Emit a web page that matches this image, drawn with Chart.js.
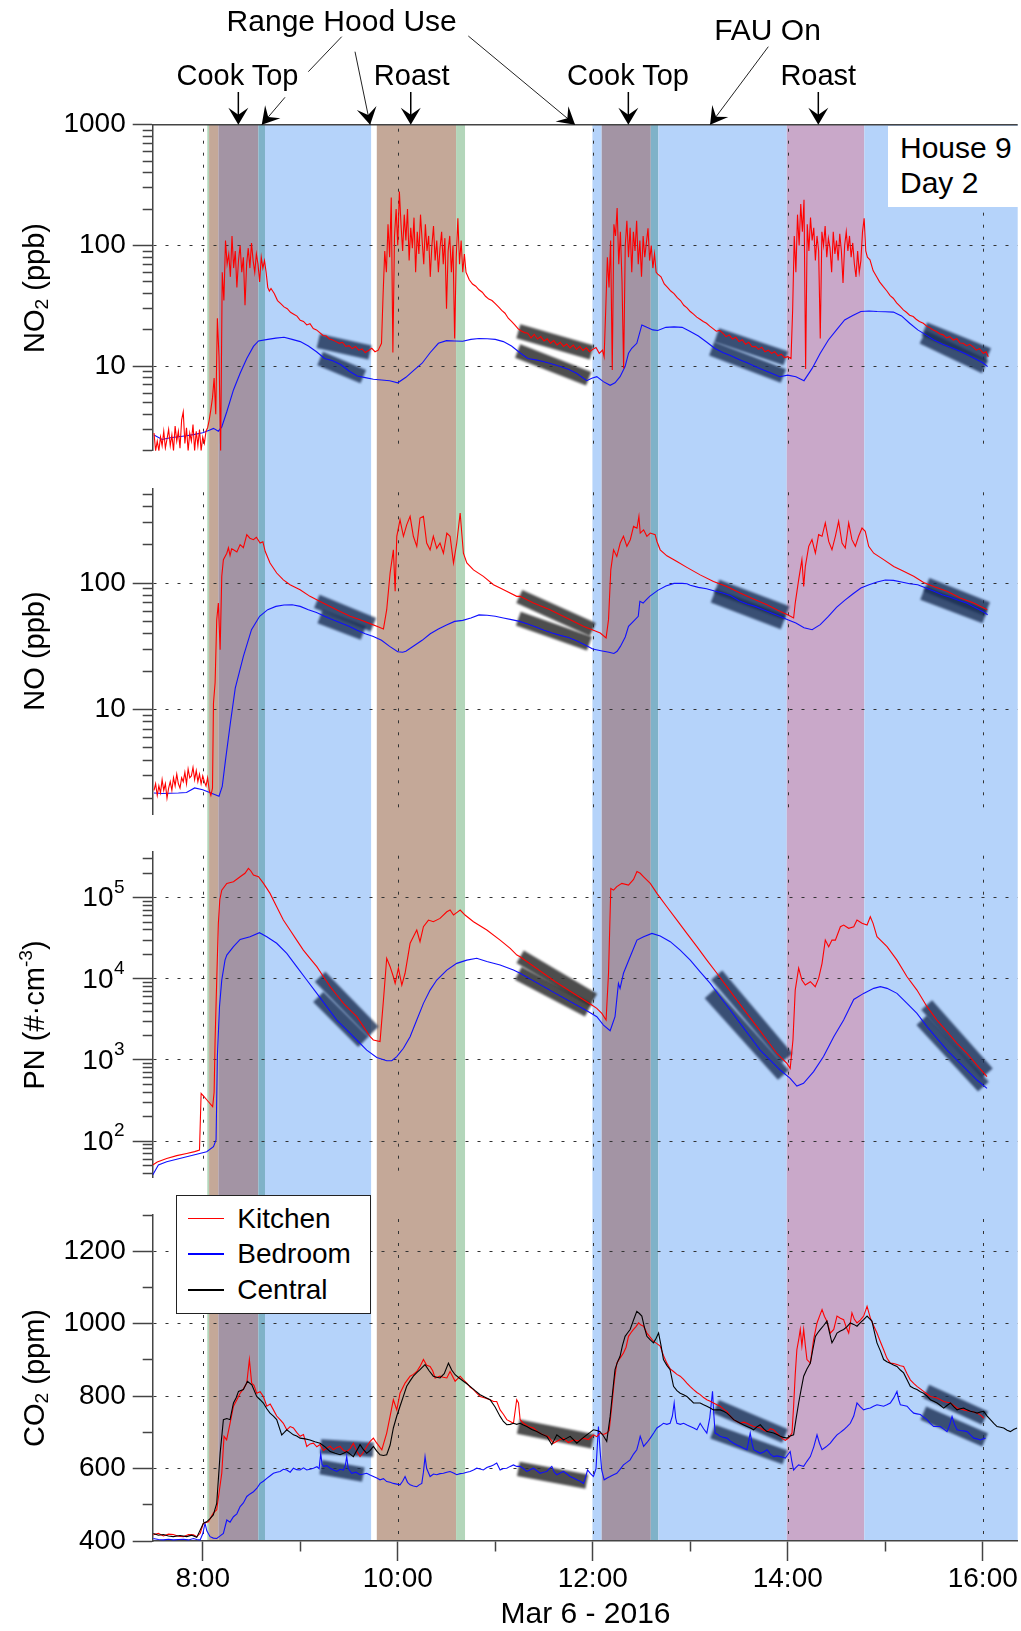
<!DOCTYPE html>
<html><head><meta charset="utf-8">
<script src="https://cdn.jsdelivr.net/npm/chart.js@4.4.1/dist/chart.umd.min.js"></script>
<style>
html,body{margin:0;padding:0;background:#fff;}
#wrap{position:relative;width:1021px;height:1631px;overflow:hidden;font-family:"Liberation Sans",Arial,Helvetica,sans-serif;color:#000;}
#c{position:absolute;left:0;top:0;}
.t{position:absolute;white-space:nowrap;line-height:1;}
.c{transform:translateX(-50%);}
.yt{position:absolute;white-space:nowrap;line-height:1;font-size:29px;transform:translate(-50%,-50%) rotate(-90deg);}
sub,sup{line-height:0;font-size:0.66em;}
sub{vertical-align:-0.22em;}
sup{vertical-align:0.62em;}
.lgl{position:absolute;left:188px;width:36px;height:1.2px;}
</style></head>
<body><div id="wrap">
<canvas id="c" width="1021" height="1631"></canvas>
<div class="t c" style="left:341.7px;top:6.3px;font-size:30px;">Range Hood Use</div>
<div class="t c" style="left:767.5px;top:15.3px;font-size:30px;">FAU On</div>
<div class="t c" style="left:237.5px;top:60.5px;font-size:29px;">Cook Top</div>
<div class="t c" style="left:411.7px;top:60.5px;font-size:29px;">Roast</div>
<div class="t c" style="left:628px;top:60.5px;font-size:29px;">Cook Top</div>
<div class="t c" style="left:818.3px;top:60.5px;font-size:29px;">Roast</div>
<div style="position:absolute;left:888px;top:126px;width:130px;height:81px;background:#fff;"></div>
<div class="t" style="left:900px;top:132.6px;font-size:30px;">House 9</div>
<div class="t" style="left:900px;top:167.6px;font-size:30px;">Day 2</div>
<div class="yt" style="left:34px;top:287.7px;">NO<sub>2</sub> (ppb)</div>
<div class="yt" style="left:34px;top:651.2px;">NO (ppb)</div>
<div class="yt" style="left:34px;top:1014.5px;">PN (#·cm<sup>-3</sup>)</div>
<div class="yt" style="left:34px;top:1378px;">CO<sub>2</sub> (ppm)</div>
<div style="position:absolute;left:175.7px;top:1195px;width:193px;height:117px;border:1.2px solid #222;background:#fff;"></div>
<div class="lgl" style="top:1217.7px;background:#ff0000;"></div>
<div class="lgl" style="top:1253.4px;background:#0000ff;"></div>
<div class="lgl" style="top:1289.4px;background:#000;"></div>
<div class="t" style="left:237.3px;top:1204.6px;font-size:28px;">Kitchen</div>
<div class="t" style="left:237.3px;top:1240.3px;font-size:28px;">Bedroom</div>
<div class="t" style="left:237.3px;top:1276.3px;font-size:28px;">Central</div>
<div class="t c" style="left:585.5px;top:1597.6px;font-size:30px;">Mar 6 - 2016</div>
</div>
<script>
// ---------- time axis (minutes since midnight) ----------
const xHourTicks = [480,540,600,660,720,780,840,900,960];
const xLabeled = [480,600,720,840,960];
const xTickLabels = ['8:00','10:00','12:00','14:00','16:00'];

// ---------- shaded periods [start, end, kind] ----------
const bands = [
 [482.8,483.9,'hood'],[483.9,489.6,'cook'],[489.6,514.2,'cookFau'],[514.2,518.3,'hoodFau'],[518.3,583.6,'fau'],
 [587.1,635.9,'cook'],[635.9,641.4,'hood'],
 [719.8,725.5,'fau'],[725.5,755.7,'cookFau'],[755.7,760.4,'hoodFau'],[760.4,839.4,'fau'],
 [839.4,887.1,'roastFau'],[887.1,981.5,'fau']
];

// ---------- labeled y ticks ----------
const no2Labeled = [10,100,1000];
const noLabeled = [10,100];
const pnLabeled = [100,1000,10000,100000];
const co2Labeled = [400,600,800,1000,1200];
const co2Ticks = [400,500,600,700,800,900,1000,1100,1200,1300];

// ---------- NO2 (ppb) ----------
const no2Bedroom = [[450,2.70],[455,2.48],[460,2.56],[465,2.61],[470,2.66],[475,2.73],[480,2.82],[484,2.95],[486.6,3.06],[489.6,2.9],[491.7,3.15],[494.8,4.2],[498.9,6.37],[503,8.76],[507.1,11.6],[511.2,14.6],[514.3,16.2],[520,16.7],[525,17.1],[530,17.4],[535,16.7],[540,16.0],[545,14.7],[550,13.2],[555,11.6],[560,11.1],[565,10.3],[570,9.15],[575,8.3],[580,8.05],[585,7.8],[590,7.7],[595,7.6],[600,7.3],[605,8.1],[610,9.3],[615,10.6],[620,13.0],[625,15.5],[630,16.3],[635,16.2],[640,16.1],[645,16.7],[650,17.0],[655,16.9],[660,16.7],[665,16.0],[670,14.7],[675,13.0],[680,11.6],[685,11.3],[690,10.9],[695,10.45],[700,9.94],[705,9.45],[710,8.75],[716.3,7.6],[719.4,7.96],[722.5,8.2],[726.5,7.46],[730.7,6.96],[733.7,7.3],[736.8,8.2],[739.9,9.94],[742,12.8],[744,14.1],[747.1,15.5],[750.2,22.0],[753.3,21.0],[757,20.0],[760,19.8],[765,21.0],[770,21.2],[775,21.0],[780,19.4],[785,17.8],[790,15.9],[795,14.1],[800,13.0],[805,12.2],[810,11.4],[815,10.7],[820,9.94],[825,9.3],[830,8.75],[835,8.2],[840,8.45],[845,8.2],[850,7.6],[855,9.6],[860,12.8],[865,16.5],[870,20.0],[875,24.2],[880,26.3],[885,28.4],[890,28.7],[895,28.4],[900,28.3],[905,28.1],[910,26.1],[915,22.7],[920,20.0],[925,18.2],[930,16.5],[935,15.3],[940,14.4],[945,13.5],[950,12.6],[955,11.6],[960,10.7],[963,9.94]];
const no2Kitchen = [[450,2.8],[451,2.0],[452,2.4],[453,2.0],[454,2.6],[455,2.2],[456,2.9],[457,2.1],[458,2.5],[459,3.0],[460,2.2],[461,2.7],[462,2.0],[463,3.2],[464,2.4],[465,2.9],[466,2.1],[467,3.6],[468,4.2],[469,2.3],[470,3.1],[471,2.0],[472,2.8],[473,2.4],[474,3.3],[475,2.0],[476,2.9],[477,2.2],[478,3.0],[479,2.0],[480,2.6],[481,2.3],[482,2.9],[483,3.1],
 [484,3.6],[485,4.4],[486,5.5],[487,8],[488,4],[489,25],[490,12],[491,2.0],[492,60],[493,35],[494,110],[495,70],[496,85],[497,55],[498,120],[499,65],[500,90],[501,45],[502,75],[503,100],[504,60],[505,80],[506,32],[507,70],[508,95],[509,65],[510,105],[511,75],[512,60],[513,85],[514,70],[515,50],[516,80],[517,65],[518,75],[519,60],[520,45],[521,42],[522,44],
 [524,40],[526,35],[528,33],[530,31],[532,30],[534,28],[536,27],[538,26],[540,24],[542,23.5],[544,22],[546,22.5],[548,20.5],[550,20],[552,19],[554,18],[556,17.8],[558,16.8],[560,16.5],[562,16],[564,15.5],[566,15.8],[568,14.6],[570,14.8],[572,14],[574,14.6],[576,13.6],[578,13.9],[580,13],[582,13.5],[584,14.1],[586,13.2],[588,13.6],[590,15.5],
 [591,40],[592,90],[593,60],[594,150],[595,80],[596,250],[597,13],[598,120],[599,200],[600,100],[601,280],[602,150],[603,90],[604,180],[605,110],[606,200],[607,75],[608,140],[609,95],[610,170],[611,60],[612,130],[613,85],[614,180],[615,110],[616,70],[617,150],[618,90],[619,120],[620,55],[621,100],[622,145],[623,75],[624,110],[625,60],[626,95],[627,130],[628,70],[629,115],[630,30],[631,90],[632,120],[633,60],[634,100],[635,17],[636,80],[637,168],[638,70],[639,110],[640,60],[641,85],[642,60],
 [644,52],[646,48],[648,46],[650,43],[652,41],[654,38],[656,36],[658,35],[660,33],[662,31],[664,29],[666,27.5],[668,25],[670,23.5],[672,22],[674,20.5],[676,19.6],[678,19],[680,18.8],[682,17.2],[684,18.4],[686,16.8],[688,17.6],[690,16.2],[692,16.9],[694,15.5],[696,16.3],[698,15],[700,15.8],[702,14.6],[704,15.3],[706,14.2],[708,15],[710,13.8],[712,14.6],[714,13.5],[716,14.2],[718,13.2],[720,13.8],[722,14.3],[724,12.8],[726,13.6],[727,12],
 [728,30],[729,80],[730,45],[731,110],[732,9.3],[733,150],[734,120],[735,204],[736,70],[737,130],[738,50],[739,9.6],[740,100],[741,160],[742,80],[743,140],[744,60],[745,130],[746,90],[747,160],[748,70],[749,110],[750,55],[751,120],[752,80],[753,105],[754,139],[755,75],[756,100],[757,65],[758,85],[759,60],[760,58],
 [762,55],[764,48],[766,45],[768,42],[770,40],[772,37],[774,35],[776,32],[778,30.5],[780,28.4],[782,27],[784,25.5],[786,24.5],[788,23.5],[790,22.7],[792,21.5],[794,20.5],[796,19.5],[798,19.8],[800,18.8],[802,17.6],[804,18.2],[806,16.8],[808,17.4],[810,16],[812,16.6],[814,15.2],[816,15.8],[818,14.5],[820,14.6],[822,13.8],[824,14.4],[826,13.2],[828,13.6],[830,12.8],[832,13.2],[834,12.2],[836,12.6],[838,11.8],[840,12.0],[842,11.6],
 [843,29],[844,120],[845,60],[846,180],[847,100],[848,220],[849,130],[850,239],[851,9.5],[852,150],[853,90],[854,170],[855,110],[856,140],[857,75],[858,120],[859,90],[860,17],[861,130],[862,100],[863,145],[864,80],[865,115],[866,95],[867,60],[868,130],[869,85],[870,110],[871,75],[872,125],[873,90],[874,49],[875,100],[876,130],[877,90],[878,120],[879,80],[880,105],[881,70],[882,55],[883,90],[884,60],[885,75],[886,130],[887,168],[888,90],[889,80],
 [890.6,76],[892.5,62],[894.7,55],[896.5,50],[898.8,45.6],[901,42],[903,38.5],[904.9,36.6],[907,33.5],[909,31.5],[911.1,29.3],[913,28],[915,26.5],[917.2,25.8],[919,24.5],[921,23.5],[923.4,22.7],[925.5,21.5],[927.5,20.8],[929.5,20],[931.5,19.4],[933.5,18.6],[935.7,18.2],[937.7,17.2],[939.7,17.6],[941.9,16.5],[944,16.9],[946,15.6],[948,15.5],[950,14.8],[952,15.2],[954.2,14.4],[956,13.6],[958,14],[960.3,12.8],[962,13.2],[963.4,12.0]];

// ---------- NO (ppb) ----------
const noBedroom = [[450,2.20],[455,2.18],[460,2.19],[465,2.2],[470,2.22],[475,2.41],[480,2.33],[485,2.2],[490,2.07],[492,2.48],[494,4.0],[497,7.85],[500,14.8],[505,26.4],[510,42.8],[515,54.6],[520,61.6],[525,65.4],[530,67],[535,67.4],[540,65.4],[545,61.6],[550,58.6],[555,54.6],[560,51.4],[565,48.3],[570,45.5],[575,42.3],[580,39.8],[585,37.9],[590,35.3],[595,31.6],[600,28.7],[603,28.4],[605,28.9],[610,32],[615,35.3],[620,39.8],[625,43.3],[630,46.6],[635,49.8],[640,50.7],[645,53],[650,56],[655,55.6],[660,54.6],[665,53],[670,51.4],[675,49.8],[680,47.5],[685,45],[690,42.3],[695,40.3],[700,38.6],[705,37.2],[710,35],[715,32.6],[720,30.1],[725,29.2],[730,28.4],[733,27.8],[735,28.9],[737,31.6],[740,37.5],[742,45.5],[745,49.8],[748,54.6],[749,71.7],[751,69.5],[753,73.9],[755,78.5],[760,87.5],[765,94.7],[770,99.4],[775,99.4],[778,98.8],[780,95.9],[785,92.4],[790,90.2],[795,86.5],[800,83.4],[805,79.4],[810,72.6],[815,68.3],[820,65.4],[825,61.6],[830,58],[835,54.6],[840,51.4],[845,48.3],[850,44.4],[855,42.8],[860,46.9],[865,54.6],[870,64.3],[875,73],[880,81.9],[885,91.3],[890,97],[895,101.8],[900,105.6],[905,105],[910,101.8],[915,98.8],[920,97],[925,91.3],[930,86],[935,80.9],[940,77.1],[945,73],[950,69.5],[955,64.3],[960,59.7],[963,56.2]];
const noKitchen = [[450,2.3],[451,2.6],[452,2.1],[453,2.5],[454,2.2],[455,2.8],[456,2.3],[457,2.6],[458,2.0],[459,2.4],[460,2.7],[461,2.3],[462,2.9],[463,2.5],[464,3.1],[465,2.6],[466,2.4],[467,2.9],[468,2.7],[469,3.2],[470,2.6],[471,3.4],[472,2.9],[473,3.0],[474,3.5],[475,2.8],[476,3.3],[477,2.7],[478,3.1],[479,2.6],[480,3.0],[481,2.7],[482,2.5],[483,2.9],[484,2.3],[485,2.1],[486,2.4],
 [486.6,11.3],[487.6,16.3],[488.6,51.3],[489.6,69.5],[490.7,29.8],[491.7,113],[492.7,153],[494.8,172],[495.8,190],[496.8,165],[497.8,186],[498.9,183],[501,176],[503,201],[505,190],[507.1,241],[509,226],[511.2,220],[513,230],[515.3,207],[517,212],[518.4,178],[521.4,144],[525.5,120],[529.6,106],[533.7,97],[539.9,88.6],[546,78.5],[552.2,71.6],[558.4,65.4],[564.5,59.7],[570.7,54.6],[576.8,51.4],[583,47.8],[587.1,45.5],[591.2,43.4],
 [593.2,61.6],[595.3,120],[597.3,183],[598.4,86],[599.4,234],[601.4,316],[603.5,234],[605.5,288],[607.6,336],[609.6,234],[611.7,195],[613.7,326],[615.8,336],[617.8,207],[619.9,183],[621.9,234],[624,188],[626,207],[628.1,172],[630.2,248],[632.2,234],[634.3,144],[636.3,207],[638.4,357],[640.4,172],[642.5,144],[646.6,127],[652.7,113],[658.9,97],[663,91.3],[667,86],[673.2,78.5],[675.3,78.5],[683.5,69.5],[693.7,61.6],[704,53],[714.2,45.5],[720.4,42.3],[724.6,40.3],[728.2,36.8],
 [729.7,51.4],[731.1,127],[732.8,183],[734.8,162],[736.9,207],[738.9,234],[741,195],[743.1,220],[745.1,280],[747.2,271],[748.4,336],[749.2,248],[751.3,263],[753.3,234],[755.4,248],[758.4,241],[759.5,213],[761.5,183],[765.6,164],[771.8,148],[777.9,133],[786.1,116],[794.3,103],[802.5,94],[810.7,83.4],[818.9,74.8],[827.2,67.4],[835.4,59.7],[839.9,56.2],[843.6,53],
 [844.6,69.5],[846.7,106],[848.7,153],[849.8,94],[850.8,135],[852.9,195],[854.9,220],[857,172],[859,241],[861.1,234],[863.1,298],[865.2,213],[867.2,183],[869.3,234],[871.3,307],[873.4,207],[875.4,189],[877.5,298],[879.5,220],[881.6,195],[883.6,234],[885.7,272],[887.7,256],[889.8,195],[892.9,172],[899,153],[905.2,135],[911.3,124],[917.5,113],[923.6,101],[929.8,94],[938,86],[946.2,76.1],[954.4,69.5],[962.7,61.6]];

// ---------- PN (#/cm3) ----------
const pnKitchen = [[449.2,50.6],[452,55],[457.8,61],[464,66],[470.1,70.3],[475,74],[478,77.4],[479,386],[480.8,352],[483.5,305],[486.1,265],[487,400],[487.6,1760],[488.6,9660],[489.6,48300],[490.5,95000],[491.7,124000],[494.8,150000],[498.9,157000],[503,181000],[506,200000],[508.1,230000],[509.5,215000],[511.2,190000],[514.3,181000],[517.4,150000],[521.4,113000],[525.5,77400],[529.6,53000],[533.7,39900],[537.8,30000],[541.9,22600],[546,17900],[550.2,14100],[554.3,10600],[558.4,8000],[562.5,6310],[566.6,4980],[570.7,4120],[574.8,3410],[578.9,2570],[583,1930],[585,1760],[589.1,1680],[591.2,5470],[593.2,17900],[595.3,14100],[597.3,10600],[598.4,8790],[600.4,13500],[602.5,8380],[604.5,11700],[607.6,27400],[609.6,33000],[611.7,39900],[613.7,28700],[615.8,43900],[618.9,53000],[621.9,50600],[626,55600],[630.2,67100],[632.2,70400],[634.3,61100],[636.5,66000],[638.4,70400],[641.4,61100],[646.6,50600],[654.8,39900],[663,30000],[669.2,23700],[673.3,19600],[675.3,18700],[697,9200],[719.4,4750],[722.5,4320],[725.6,3750],[728.2,3100],[729.7,11700],[731.1,130000],[732.8,124000],[734.8,137000],[737.9,150000],[742,143000],[745.1,168000],[747.2,210000],[749.2,200000],[751.3,181000],[755.4,150000],[759.5,113000],[765.6,77400],[771.8,53000],[777.9,36300],[784.1,24900],[790.2,17000],[796.4,11700],[802.5,8000],[808.7,5470],[814.8,3750],[821,2570],[827.2,1760],[833.3,1200],[839.5,906],[841.5,787],[843.2,1760],[844.6,7260],[846.7,13500],[848.7,9660],[850.8,8380],[853.9,9200],[856.9,8000],[859,10100],[861.1,15500],[863.1,30000],[865.2,24900],[867.2,30000],[869.3,30000],[872.4,43900],[874.4,46000],[877.5,41900],[880.6,43900],[882.6,53000],[885.7,48300],[888.8,46000],[890.8,58300],[892.5,48300],[894.9,33000],[901.1,24900],[907.2,17000],[913.4,10600],[919.5,7260],[925.7,4530],[931.8,3100],[938,2230],[944.1,1600],[950.3,1200],[956.4,865],[962.6,621]];
const pnBedroom = [[449.2,38],[452.7,50.6],[457.8,55.6],[470.1,64.1],[482.4,73.8],[486.6,85],[488.2,103],[489,1100],[490.3,4530],[491.7,9660],[493.7,17000],[494.8,19600],[498.9,24900],[503,30600],[509.1,33000],[514.9,37000],[519.4,33000],[525.5,27400],[531.7,20600],[537.8,14100],[544,9660],[550.2,6610],[556.3,4530],[562.5,3100],[568.6,2340],[574.8,1760],[580.9,1320],[587.1,1070],[593.2,977],[596.3,977],[599.4,1100],[603.5,1390],[607.6,1930],[611.7,3100],[615.8,4980],[619.9,7260],[624,9660],[630.2,12800],[636.3,15500],[642.5,17000],[648.6,17900],[654.8,16300],[663,14800],[671.2,12800],[675.3,11700],[696,6800],[717.4,3930],[722.5,3410],[726.6,2690],[730.7,2290],[733.7,3410],[735.8,8790],[736.8,7620],[738.9,11700],[743,18700],[747.2,30000],[751.3,33000],[756.4,36300],[761.5,33700],[767.7,28700],[773.8,22600],[780,17000],[786.1,12200],[792.3,8790],[798.4,6010],[804.6,4120],[810.7,2820],[816.9,1930],[823,1320],[829.2,995],[835.3,750],[841.5,592],[845.6,476],[849.7,514],[855.9,716],[862,1100],[868.3,1930],[874.4,3100],[880.6,5570],[886.7,6610],[892.9,7620],[897,8000],[901.1,7620],[907.2,6610],[913.4,4980],[919.5,3750],[925.7,2570],[931.8,1840],[938,1320],[944.1,995],[950.3,750],[956.4,565],[962.6,446]];

// ---------- CO2 (ppm) ----------
const co2Kitchen = [[449.6,417],[452.7,421],[455.8,414],[458.9,419],[461.9,418],[465,413],[468.1,412],[471.2,418],[474.3,417],[476.3,412],[478.4,421],[480.4,449],[483.5,453],[486.5,477],[488.6,486],[491.7,587],[493.1,689],[494.7,679],[496.8,725],[498.9,772],[501,790],[503,808],[505,820],[507.1,836],[508.7,901],[510.1,836],[511.5,830],[513.2,808],[515.3,812],[517.3,799],[519.4,772],[521.5,778],[523.5,762],[525.5,745],[527.6,735],[529.6,725],[531.7,707],[533.8,716],[535.8,712],[537.8,700],[539.9,689],[542,694],[544,661],[546,668],[548.1,670],[550.2,660],[552.2,666],[554.3,650],[556.3,656],[558.4,662],[560.4,652],[562.5,658],[564.5,661],[566.6,650],[568.6,647],[570.7,655],[572.7,670],[574.8,648],[576.8,633],[578.9,645],[580.9,661],[583,675],[585,684],[587.1,670],[590.2,652],[593.2,698],[595.3,745],[597.3,790],[599.4,762],[601.4,808],[604.5,836],[607.6,855],[609.6,860],[611.7,868],[613.7,882],[615.8,901],[617.8,885],[619.9,882],[621.5,870],[623,850],[626,855],[628,852],[630.2,850],[632.2,868],[635.3,841],[638.4,855],[640.4,845],[642.5,836],[644.5,825],[646.6,818],[648.6,808],[650.7,799],[653.7,795],[656.8,790],[658.9,785],[660.9,785],[663,762],[665,750],[667.1,735],[669.2,730],[671.2,725],[673.2,790],[674.3,781],[675.3,735],[677.3,725],[680.4,716],[683.5,712],[686.6,700],[689.6,693],[692.7,688],[695.8,670],[699,678],[701.9,684],[705,672],[708.1,679],[711.2,676],[714.2,684],[717.3,680],[720.4,693],[722.5,688],[724.5,698],[726.6,694],[728.6,698],[730.1,705],[731.7,772],[733.2,840],[734.8,891],[736.8,905],[738.9,919],[740.5,935],[742,965],[743.5,975],[745.1,984],[746.6,992],[748.2,1002],[749.7,996],[751.3,993],[753.3,974],[755.4,962],[757.4,951],[759.5,945],[761.5,938],[763.5,912],[765.6,891],[767.7,875],[769.7,868],[771.8,860],[773.8,855],[775.9,846],[777.9,836],[780,826],[782,818],[784.1,810],[786.1,804],[788.2,796],[790.2,790],[792.3,786],[794.3,781],[796.4,776],[798.4,772],[800.5,764],[802.5,758],[804.6,745],[806.7,735],[808.7,730],[810.8,725],[812.8,728],[814.9,725],[817,720],[819,716],[821,714],[823.1,712],[825.2,706],[827.2,702],[829.3,710],[831.3,707],[833.3,698],[835.4,689],[837,682],[838.5,678],[840.5,684],[842.6,698],[843.6,772],[844.6,860],[845.6,928],[846.7,955],[847.7,984],[848.7,938],[849.8,984],[850.8,940],[851.8,901],[853.9,891],[855.9,956],[858,1002],[859.5,1020],[861.1,1039],[862.6,1020],[864.1,1007],[866.2,974],[868.3,984],[870.3,1021],[872.4,1015],[874.4,1011],[876,990],[877.5,974],[879.5,1030],[881,1012],[882.6,1002],[884.6,1010],[886.7,1021],[888.8,1048],[890.8,1016],[892.8,995],[894.9,974],[897,950],[899,928],[901,905],[903.1,891],[905.2,890],[907.2,887],[909.3,884],[911.3,882],[913.4,862],[915.4,845],[917.5,835],[919.5,827],[921.6,820],[923.6,813],[925.7,806],[927.8,799],[929.8,797],[931.9,795],[934,790],[936,785],[938,783],[940.1,781],[942.1,774],[944.2,767],[946.2,765],[948.3,762],[950.4,760],[952.4,758],[954.5,756],[956.5,753],[958.6,748],[960.6,739]];
const co2Central = [[449.6,421],[452.7,416],[455.8,418],[458.9,414],[461.9,412],[466,415],[470.1,412],[473.2,416],[476.3,410],[478.4,430],[480.4,449],[482.4,453],[484.5,462],[486.5,472],[488.6,504],[490.7,642],[492.7,735],[494.8,738],[496.8,735],[498.9,781],[500.5,795],[502,813],[505,818],[507.5,841],[510.2,831],[513.2,799],[515.3,790],[517.3,781],[519.4,765],[521.4,753],[523.5,745],[525.5,735],[528.6,693],[530.2,700],[531.7,707],[533.8,700],[535.8,693],[537.8,690],[539.9,684],[543,682],[546,679],[549,674],[552.2,670],[555.3,660],[558.4,647],[561.5,642],[564.5,638],[566.6,642],[568.6,647],[570.7,640],[572.7,633],[574.8,650],[576.8,666],[578.9,652],[580.9,642],[583,650],[585,661],[587.1,648],[589.1,638],[591.2,636],[593.2,638],[595.3,665],[597.3,712],[599.4,745],[601.4,772],[603.5,800],[605.5,827],[607.6,842],[609.6,855],[611.7,865],[613.7,873],[615.2,880],[616.8,887],[619.3,870],[621.9,855],[624,852],[626,850],[628.6,862],[631.2,891],[633.2,872],[635.3,859],[637.8,850],[640.4,841],[642.5,834],[644.5,827],[647.6,815],[650.7,804],[653.7,797],[656.8,790],[659.9,770],[663,744],[665,730],[667.1,721],[669.2,722],[671.2,725],[673.2,722],[675.3,725],[677.3,720],[679.4,716],[682.5,708],[685.6,702],[688.6,695],[691.7,689],[694.8,666],[697.9,693],[700,686],[702,679],[704.1,684],[706.1,689],[708.1,680],[710.2,670],[713.2,682],[716.3,693],[718.4,700],[720.4,707],[722.5,705],[724.5,702],[726.6,690],[728.6,675],[730.7,744],[732.2,810],[733.7,873],[735.3,895],[736.8,910],[738.3,940],[739.9,965],[741.5,975],[743,984],[745.1,1010],[747.1,1034],[748.7,1028],[750.2,1021],[751.8,990],[753.3,965],[755.4,955],[757.4,947],[759,960],[760.5,974],[762,940],[763.5,901],[765.6,885],[767.6,873],[769.7,827],[771.8,815],[773.8,808],[775.9,804],[777.9,799],[780,790],[782,781],[784.1,781],[786.1,781],[788.2,776],[790.2,772],[792.3,767],[794.3,762],[796.4,762],[798.4,762],[800.5,758],[802.5,753],[804.6,745],[806.7,735],[808.8,730],[810.8,725],[812.9,720],[814.9,716],[817,712],[819,707],[821,715],[823.1,721],[825.2,710],[827.2,702],[829.3,700],[831.3,698],[833.3,694],[835.4,689],[837.5,686],[839.5,684],[841.5,690],[843.6,693],[845.2,740],[846.7,781],[848.3,820],[849.8,855],[851.8,875],[853.9,891],[855.5,930],[857,965],[858.5,975],[860.1,984],[862.1,995],[864.1,1007],[865.7,975],[867.2,947],[868.8,960],[870.3,974],[872.4,980],[874.4,984],[876.5,992],[878.5,1002],[880.6,998],[882.6,993],[884.7,1003],[886.7,1011],[888.8,1021],[890.3,1014],[891.8,1007],[893.4,975],[894.9,947],[897,925],[899,901],[901,895],[903.1,891],[905.1,886],[907.2,882],[909.3,872],[911.3,864],[913.4,845],[915.4,827],[917.5,822],[919.5,818],[921.6,812],[923.6,808],[925.7,800],[927.8,790],[929.8,786],[931.9,781],[934,774],[936,767],[938,774],[940.1,781],[942.1,771],[944.2,762],[946.2,765],[948.3,767],[950.3,762],[952.4,758],[954.5,756],[956.5,753],[958.6,756],[960.6,758],[962.7,745],[964.7,735],[966.8,725],[968.8,716],[970.9,714],[972.9,712],[975,706],[977,702],[979,708],[981.1,712]];
const co2Bedroom = [[449.6,407],[452.7,404],[455.8,403],[458.9,405],[461.9,403],[465,404],[468.1,405],[471.2,403],[474.3,407],[476.3,404],[478.4,403],[480,420],[481.4,449],[482.5,428],[484.5,412],[486.5,408],[488.6,407],[490.7,414],[492.7,421],[494.8,458],[496.8,452],[498.9,467],[501,475],[503,495],[505,505],[507.1,523],[509.1,530],[511.2,536],[513.2,545],[515.3,559],[517.3,565],[519.4,573],[521.5,580],[523.5,587],[525.5,590],[527.6,592],[529.6,598],[531.7,596],[533.8,590],[535.8,601],[537.8,597],[539.9,596],[542,602],[544,596],[546,598],[548.1,601],[550.3,605],[551.6,600],[552.6,642],[553.4,612],[554.3,606],[556.3,608],[558.4,601],[560.4,596],[562.5,592],[564.5,598],[566.6,596],[567.8,610],[568.6,633],[569.5,600],[571.7,587],[574.2,590],[576.8,583],[578.9,585],[580.9,587],[583,582],[585,578],[587.1,574],[589.1,569],[591.2,572],[593.2,564],[595.3,562],[597.3,559],[599.4,557],[601.4,555],[603,565],[604.5,578],[606,562],[607.6,555],[609.6,552],[611.7,550],[613.2,555],[614.8,559],[615.8,590],[616.8,633],[617.8,600],[619.9,578],[622,585],[624,583],[626,586],[628.1,587],[630.2,590],[632.2,592],[634.3,588],[636.3,583],[638.4,586],[640.4,587],[642.5,590],[644.5,592],[646.6,596],[648.6,601],[650.7,599],[652.7,596],[654.8,603],[656.8,606],[658.9,610],[660.9,615],[663,596],[665,600],[667.1,601],[669.2,606],[671.2,610],[673.2,606],[675.3,606],[677.3,600],[679.4,592],[681.5,597],[683.5,601],[685.6,594],[687.6,587],[689.7,590],[691.7,592],[693.3,600],[694.8,606],[696.3,590],[697.9,583],[700,588],[702,592],[704.1,585],[706.1,578],[708.1,574],[710.2,569],[712.3,565],[714.3,559],[715.5,575],[716.8,596],[718.6,586],[720.4,578],[722,600],[723.5,716],[724.5,650],[725.5,596],[727,569],[728.9,574],[730.7,578],[732.8,583],[734.8,587],[736.8,598],[738.9,610],[741,617],[743,624],[745.1,640],[747.1,652],[748.2,670],[749.2,689],[750.3,675],[751.3,661],[753.4,672],[755.4,684],[757.5,698],[759.5,712],[761.5,718],[763.5,725],[765.6,722],[767.6,725],[769,745],[770.1,781],[771,740],[771.8,725],[773.9,722],[775.9,725],[778,720],[780,716],[782.1,712],[784.1,707],[786.1,725],[788.2,710],[790.2,698],[792,740],[793.7,813],[794.5,750],[795.3,698],[796.9,694],[798.4,689],[800.5,686],[802.5,684],[804.6,676],[806.7,670],[808.7,665],[810.8,661],[812.9,656],[814.9,652],[815.9,675],[816.9,698],[818,670],[819,652],[821,647],[823.1,642],[825.2,646],[827.2,652],[829.3,640],[831.3,633],[833.4,635],[835.4,633],[837,631],[838.5,629],[840,638],[841.5,647],[842.5,620],[843.6,596],[845.1,603],[846.7,610],[848.3,608],[849.8,606],[851.8,620],[853.9,633],[856,660],[858,693],[859.5,670],[861.1,652],[863.6,660],[866.2,670],[868.2,682],[870.3,693],[872.4,700],[874.4,707],[876.5,716],[878.5,725],[880.6,745],[882.6,781],[884.7,770],[886.7,762],[888.7,765],[890.8,767],[892.8,772],[894.9,776],[897,774],[899,772],[901,776],[903.1,781],[905.2,795],[907.2,813],[908.3,790],[909.3,776],[911.4,774],[913.4,772],[915.4,762],[917.5,753],[919.5,751],[921.6,749],[923.6,742],[925.7,735],[927.7,725],[929.8,716],[931.8,716],[933.9,716],[936,709],[938,702],[939.6,720],[941.1,744],[942.6,722],[944.2,707],[946.2,705],[948.3,704],[950.4,702],[952.4,693],[954.5,684],[956.5,682],[958.6,679],[960.2,682],[961.7,684]];

// ---------- exponential-decay fit segments [t0, v0, t1, v1] ----------
const no2Fits = [[551.1,16.2,582.9,13.0],[552.2,11.6,578.8,8.2],[674.2,19.5,719.4,13.0],[673.8,13.4,717.5,7.9],[796.3,18.1,838.8,11.6],[793.2,14.0,837.3,8.3],[924.1,20.3,963.4,12.4],[923.1,17.5,961.4,9.9]];
const noFits = [[550.2,71.6,585.0,46.9],[552.2,54.5,578.8,40.3],[674.8,78.3,720,42.8],[674.2,52.3,717.9,33.2],[796.3,94,839.4,58],[794.2,79.4,837.3,48.9],[925.5,97,962.8,62.4],[923.1,83.4,961.4,54.5]];
const pnFits = [[552.2,10600,585,2230],[551.1,6000,578.8,1670],[675.3,18700,720.4,5480],[674.2,11700,717.3,4120],[796.3,11100,839.4,1050],[792.2,6600,837.3,652],[925.5,4750,962.8,684],[922.5,3100,960.4,468]];
const co2Fits = [[552.6,661,585,652],[552.6,604,578.8,583],[674.2,716,720,675],[674.2,599,716.3,564],[795.9,771,838.3,690],[793.8,702,838.3,631],[925.1,813,961.4,739],[923.4,753,961.4,679]];

// ---------- annotation arrow tips (minutes) ----------
const arrowDownTips = [501.9, 608, 741.9, 858.8];
const arrowDiagTips = [516.3, 583, 709.1, 792.2];

// ================= rendering =================
const XMIN = 449.2, XMAX = 981.5;
const FONT = '"Liberation Sans", Arial, Helvetica, sans-serif';
Chart.defaults.font.family = FONT;
Chart.defaults.font.size = 28;
Chart.defaults.color = '#000';

const BAND_COLORS = {hood:'#b3d6ba', cook:'#c4a898', cookFau:'#a394a4', hoodFau:'#7fb2c8', fau:'#b5d3fa', roastFau:'#c9a8c9'};
const FAU_KINDS = ['cookFau','hoodFau','fau','roastFau'];

function logTicks(min, max) {
  const t = [];
  for (let e = Math.floor(Math.log10(min)); e <= Math.ceil(Math.log10(max)); e++) {
    for (let m = 1; m <= 9; m++) { const v = +(m * Math.pow(10, e)).toPrecision(6); if (v >= min * 0.999 && v <= max * 1.001) t.push(v); }
  }
  return t;
}
const isPow10 = v => Math.abs(Math.log10(v) - Math.round(Math.log10(v))) < 1e-6;

const PANELS = [
  {id:'yNO2', type:'logarithmic', min:2, max:1000, top:124.7, bottom:450.7, labeled:no2Labeled, grid:[10,100]},
  {id:'yNO', type:'logarithmic', min:1.5, max:560, top:488.3, bottom:814, labeled:noLabeled, grid:[10,100]},
  {id:'yPN', type:'logarithmic', min:35.7, max:369000, top:851.7, bottom:1177.3, labeled:[], grid:pnLabeled, major:pnLabeled},
  {id:'yCO2', type:'linear', min:400, max:1300, top:1215, bottom:1541, labeled:co2Labeled, grid:[600,800,1000,1200], major:co2Labeled}
];
PANELS.forEach(p => {
  p.ticks = p.type === 'linear' ? co2Ticks : logTicks(p.min, p.max);
  if (!p.major) p.major = p.ticks.filter(isPow10);
});
const near = (arr, v) => arr.some(a => Math.abs(a - v) / a < 1e-6);

const scales = {
  x: {
    type:'linear', position:'bottom', min:XMIN, max:XMAX,
    afterBuildTicks: s => { s.ticks = xHourTicks.map(v => ({value:v})); },
    afterFit: s => { s.height = 90; },
    grid: {drawOnChartArea:false, drawTicks:true, tickLength:20, tickColor:'#444', tickWidth:1.5,
      tickBorderDash: c => (c.tick && xLabeled.includes(c.tick.value)) ? [] : [10, 40]},
    border: {display:true, color:'#444', width:1.5},
    ticks: {autoSkip:false, maxRotation:0, minRotation:0, padding:1, color:'#000', font:{size:28},
      callback: v => { const i = xLabeled.indexOf(v); return i >= 0 ? xTickLabels[i] : ''; }}
  }
};
PANELS.forEach(p => {
  scales[p.id] = {
    type:p.type, position:'left', stack:'panels', stackWeight:1, min:p.min, max:p.max, bounds:'data',
    afterFit: s => { s.width = 152.7; },
    afterBuildTicks: s => { s.ticks = p.ticks.map(v => ({value:v})); },
    grid: {
      drawOnChartArea:true, drawTicks:true, tickLength:20, tickWidth:1.5, tickColor:'#444',
      color: c => (c.tick && near(p.grid, c.tick.value)) ? '#333' : 'rgba(0,0,0,0)',
      lineWidth: 1,
      tickBorderDash: c => (c.tick && near(p.major, c.tick.value)) ? [] : [0, 10, 10, 0]
    },
    border: {display:true, color:'#444', width:1.5, dash:[3, 9]},
    ticks: {autoSkip:false, padding:7, color:'#000', font:{size:28},
      callback: v => near(p.labeled, v) ? String(v) : ''}
  };
});

const datasets = [];
function addFits(fits, yId) {
  fits.forEach(f => {
    const mid = (f[0] + f[2]) / 2;
    const overFau = bands.some(b => mid >= b[0] && mid <= b[1] && FAU_KINDS.includes(b[2]));
    datasets.push({data:[{x:f[0], y:f[1]}, {x:f[2], y:f[3]}], yAxisID:yId, isFit:true,
      borderColor: overFau ? 'rgba(26,46,82,0.80)' : 'rgba(48,48,48,0.86)',
      borderWidth:14.5, borderCapStyle:'butt', pointRadius:0, order:10});
  });
}
addFits(no2Fits, 'yNO2'); addFits(noFits, 'yNO'); addFits(pnFits, 'yPN'); addFits(co2Fits, 'yCO2');
function addLine(arr, yId, color, order) {
  datasets.push({data: arr.map(p => ({x:p[0], y:p[1]})), yAxisID:yId, borderColor:color, borderWidth:1.1,
    pointRadius:0, tension:0, order:order});
}
addLine(no2Bedroom, 'yNO2', '#1010ff', 3); addLine(no2Kitchen, 'yNO2', '#ff0000', 2);
addLine(noBedroom, 'yNO', '#1010ff', 3); addLine(noKitchen, 'yNO', '#ff0000', 2);
addLine(pnBedroom, 'yPN', '#1010ff', 3); addLine(pnKitchen, 'yPN', '#ff0000', 2);
addLine(co2Bedroom, 'yCO2', '#1010ff', 3); addLine(co2Kitchen, 'yCO2', '#ff0000', 2); addLine(co2Central, 'yCO2', '#000000', 1);

function arrowHead(ctx, x0, y0, x1, y1) {
  const L = 17, N = 10, W = 10;
  const dx = x1 - x0, dy = y1 - y0, d = Math.hypot(dx, dy), ux = dx / d, uy = dy / d, px = -uy, py = ux;
  ctx.beginPath();
  ctx.moveTo(x1, y1);
  ctx.lineTo(x1 - ux * L + px * W, y1 - uy * L + py * W);
  ctx.lineTo(x1 - ux * N, y1 - uy * N);
  ctx.lineTo(x1 - ux * L - px * W, y1 - uy * L - py * W);
  ctx.closePath(); ctx.fill();
}
function seg(ctx, a, b, c, d) { ctx.beginPath(); ctx.moveTo(a, b); ctx.lineTo(c, d); ctx.stroke(); }

const panelPlugin = {
  id:'panelLayout',
  afterLayout(chart) {
    PANELS.forEach(p => { const s = chart.scales[p.id]; s.top = p.top; s.bottom = p.bottom; s.height = p.bottom - p.top; s.configure(); });
  },
  beforeDraw(chart) {
    const {ctx, chartArea} = chart, xs = chart.scales.x;
    ctx.save();
    bands.forEach(b => {
      const x0 = xs.getPixelForValue(b[0]), x1 = xs.getPixelForValue(b[1]);
      ctx.fillStyle = BAND_COLORS[b[2]];
      ctx.fillRect(x0, chartArea.top, x1 - x0, chartArea.bottom - chartArea.top);
    });
    ctx.restore();
  },
  beforeDatasetsDraw(chart) {
    const {ctx, chartArea} = chart, xs = chart.scales.x;
    ctx.save();
    ctx.strokeStyle = '#333'; ctx.lineWidth = 1; ctx.setLineDash([3, 9]);
    PANELS.forEach(p => {
      xLabeled.forEach(v => { const x = Math.round(xs.getPixelForValue(v)) + 0.5; seg(ctx, x, p.top + 4, x, p.bottom - 2); });
    });
    ctx.setLineDash([]); ctx.strokeStyle = '#444'; ctx.lineWidth = 1.5;
    const yTop = chart.scales.yNO2.getPixelForValue(1000);
    seg(ctx, chartArea.left, yTop, chartArea.right, yTop);
    ctx.restore();
  },
  beforeDatasetDraw(chart, args) {
    if (chart.data.datasets[args.index].isFit) { chart.ctx.save(); chart.ctx.filter = 'blur(0.8px)'; }
  },
  afterDatasetDraw(chart, args) {
    if (chart.data.datasets[args.index].isFit) { chart.ctx.restore(); }
  },
  afterDraw(chart) {
    const {ctx, chartArea} = chart, xs = chart.scales.x;
    ctx.save();
    const ps = chart.scales.yPN;
    ctx.fillStyle = '#000'; ctx.textBaseline = 'middle';
    pnLabeled.forEach(v => {
      const y = ps.getPixelForValue(v), e = Math.round(Math.log10(v));
      ctx.font = '28px ' + FONT; ctx.textAlign = 'right'; ctx.fillText('10', 113.5, y + 1);
      ctx.font = '19px ' + FONT; ctx.textAlign = 'left'; ctx.fillText(String(e), 114, y - 10);
    });
    const topY = chartArea.top;
    ctx.fillStyle = '#000'; ctx.strokeStyle = '#000'; ctx.lineWidth = 1.5;
    arrowDownTips.forEach(t => { const x = xs.getPixelForValue(t); seg(ctx, x, 92, x, topY - 8); arrowHead(ctx, x, 92, x, topY); });
    const tails = [[285, 97.3], [355, 51.7], [468.3, 36], [768.3, 46.7]];
    ctx.strokeStyle = '#222'; ctx.lineWidth = 1;
    arrowDiagTips.forEach((t, i) => {
      const x = xs.getPixelForValue(t), [tx, ty] = tails[i];
      seg(ctx, tx, ty, x, topY); arrowHead(ctx, tx, ty, x, topY);
    });
    seg(ctx, 341.7, 36.7, 308.3, 71.7);
    ctx.restore();
  }
};

new Chart(document.getElementById('c'), {
  type:'line',
  data:{datasets},
  options:{
    responsive:false, animation:false, devicePixelRatio:1, parsing:false, normalized:true, events:[],
    layout:{padding:{top:124.7, left:0, right:3.3, bottom:0}},
    plugins:{legend:{display:false}, tooltip:{enabled:false}},
    scales
  },
  plugins:[panelPlugin]
});
</script>
</body></html>
